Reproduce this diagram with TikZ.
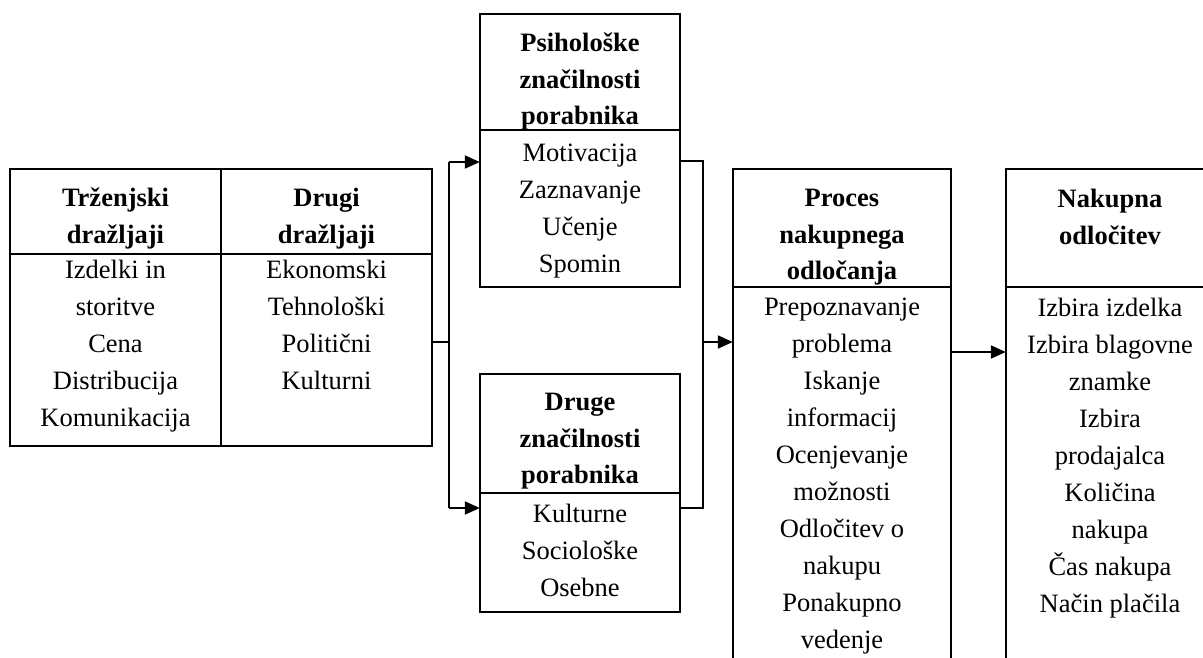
\documentclass[tikz,border=0pt]{standalone}
\usepackage{fontspec}
\setmainfont{Liberation Serif}
\usetikzlibrary{arrows.meta}
\newcommand\firstln{\rule{0pt}{22pt}}
\begin{document}
\begin{tikzpicture}[x=1pt,y=-1pt,
  box/.style={draw,line width=2pt},
  divider/.style={line width=2pt},
  conn/.style={line width=2pt},
  arr/.style={conn,-{Triangle[length=15pt,width=13pt]}},
  txt/.style={anchor=north,align=center,inner sep=0pt,font=\fontsize{26.5}{37}\selectfont,execute at begin node=\firstln},
  hd/.style={txt,font=\fontsize{26.5}{36.5}\selectfont\bfseries}]
\useasboundingbox (0,0) rectangle (1203,657);
\clip (0,0) rectangle (1203,657);
% boxes
\draw[box] (10,169) rectangle (432,446);
\node[inner sep=0pt,minimum width=422pt,minimum height=277pt] (stim) at (221,307.5) {};
\draw[divider] (10,254) -- (432,254);
\draw[divider] (221,169) -- (221,446);
\draw[box] (480,14) rectangle (680,287);
\node[inner sep=0pt,minimum width=200pt,minimum height=273pt] (psi) at (580,150.5) {};
\draw[divider] (480,130) -- (680,130);
\draw[box] (480,374) rectangle (680,612);
\node[inner sep=0pt,minimum width=200pt,minimum height=238pt] (oth) at (580,493) {};
\draw[divider] (480,493) -- (680,493);
\draw[box] (733,169) rectangle (951,700);
\node[inner sep=0pt,minimum width=218pt,minimum height=531pt] (proc) at (842,434.5) {};
\draw[divider] (733,287) -- (951,287);
\draw[box] (1006,169) rectangle (1216,700);
\node[inner sep=0pt,minimum width=210pt,minimum height=531pt] (dec) at (1111,434.5) {};
\draw[divider] (1006,287) -- (1216,287);
% texts
\node[hd] (h1) at (115.5,188) {Trženjski\\dražljaji};
\node[txt] (b1) at (115.5,260) {Izdelki in\\storitve\\Cena\\Distribucija\\Komunikacija};
\node[hd] (h2) at (326.5,188) {Drugi\\dražljaji};
\node[txt] (b2) at (326.5,260) {Ekonomski\\Tehnološki\\Politični\\Kulturni};
\node[hd] (h3) at (580,33) {Psihološke\\značilnosti\\porabnika};
\node[txt] (b3) at (580,144) {Motivacija\\Zaznavanje\\Učenje\\Spomin};
\node[hd] (h4) at (580,393) {Druge\\značilnosti\\porabnika};
\node[txt] (b4) at (580,504) {Kulturne\\Sociološke\\Osebne};
\node[hd] (h5) at (842,189) {Proces\\nakupnega\\odločanja};
\node[txt] (b5) at (842,298) {Prepoznavanje\\problema\\Iskanje\\informacij\\Ocenjevanje\\možnosti\\Odločitev o\\nakupu\\Ponakupno\\vedenje};
\node[hd] (h6) at (1110,189) {Nakupna\\odločitev};
\node[txt] (b6) at (1110,298) {Izbira izdelka\\Izbira blagovne\\znamke\\Izbira\\prodajalca\\Količina\\nakupa\\Čas nakupa\\Način plačila};
% connectors
\coordinate (busL) at (449,342);
\coordinate (busR) at (703,342);
\draw[conn] (stim.east |- busL) -- (busL);
\draw[conn] (449,162) -- (449,508);
\draw[arr] (449,162) -- (psi.west |- 0,162);
\draw[arr] (449,508) -- (oth.west |- 0,508);
\draw[conn] (psi.east |- 0,161) -| (busR) |- (oth.east |- 0,508);
\draw[arr] (busR) -- (proc.west |- busR);
\draw[arr] (proc.east |- 0,352) -- (dec.west |- 0,352);
\end{tikzpicture}
\end{document}
